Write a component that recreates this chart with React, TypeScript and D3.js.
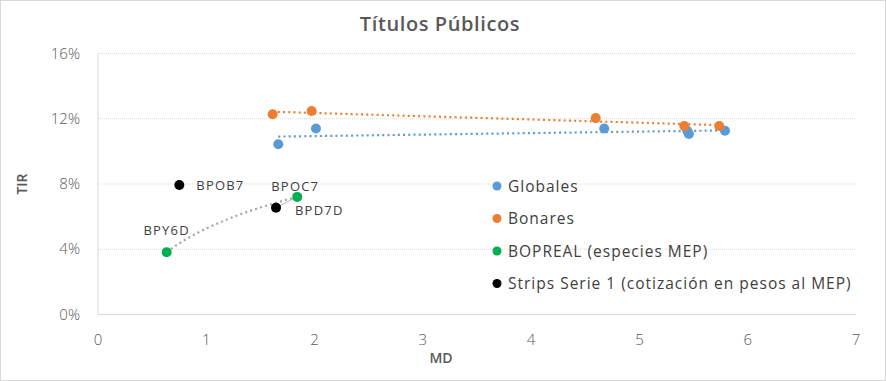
import React from "react";
import * as d3 from "d3";

const globalesMD = [1.665, 2.013, 4.675, 5.441, 5.457, 5.79];
const globalesTIR = [10.44, 11.4, 11.4, 11.26, 11.06, 11.26];
const bonaresMD = [1.613, 1.973, 4.596, 5.414, 5.737];
const bonaresTIR = [12.28, 12.47, 12.04, 11.56, 11.56];
const bopreaMD = [0.634, 1.84];
const bopreaTIR = [3.82, 7.21];
const bopreaLabels = ["BPY6D", "BPOC7"];
const stripsMD = [0.751, 1.644];
const stripsTIR = [7.94, 6.55];
const stripsLabels = ["BPOB7", "BPD7D"];
const xTicks = [0, 1, 2, 3, 4, 5, 6, 7];
const yTicks = [0, 4, 8, 12, 16];
const legendNames = [
  "Globales",
  "Bonares",
  "BOPREAL (especies MEP)",
  "Strips Serie 1 (cotización en pesos al MEP)",
];
const colors = ["#5B9BD5", "#ED7D31", "#00B050", "#000000"];

const W = 886, H = 381;
const x = d3.scaleLinear().domain([0, 7]).range([98, 856]);
const y = d3.scaleLinear().domain([0, 16]).range([314.5, 53.5]);

function linFit(xs: number[], ys: number[]) {
  const n = xs.length;
  const mx = d3.mean(xs)!, my = d3.mean(ys)!;
  let sxy = 0, sxx = 0;
  for (let i = 0; i < n; i++) { sxy += (xs[i] - mx) * (ys[i] - my); sxx += (xs[i] - mx) ** 2; }
  const b = sxy / sxx;
  const a = my - b * mx;
  return (v: number) => a + b * v;
}
function logFit(xs: number[], ys: number[]) {
  const lx = xs.map(Math.log);
  return (v: number) => linFit(lx, ys)(Math.log(v));
}

const line = d3.line<[number, number]>().x(d => x(d[0])).y(d => y(d[1]));

function trend(xs: number[], f: (v: number) => number) {
  const [lo, hi] = d3.extent(xs) as [number, number];
  const pts: [number, number][] = d3.range(0, 41).map(i => {
    const v = lo + (hi - lo) * i / 40;
    return [v, f(v)];
  });
  return line(pts)!;
}

const font = "'Open Sans', 'Noto Sans', sans-serif";

export default function App() {
  const gF = linFit(globalesMD, globalesTIR);
  const bF = linFit(bonaresMD, bonaresTIR);
  const pF = logFit(bopreaMD, bopreaTIR);
  const dash = { strokeDasharray: "2 3.2", strokeWidth: 2.2, fill: "none" } as const;
  return (
    <svg width={W} height={H} style={{ position: "absolute", left: 0, top: 0, background: "#fff" }}>
      <rect x={0.5} y={0.5} width={W - 1} height={H - 1} fill="#fff" stroke="#D9D9D9" />
      <text x={440} y={31} textAnchor="middle" fontFamily={font} fontSize={20} fontWeight={600} fill="#595959" letterSpacing={0.6}>Títulos Públicos</text>
      {yTicks.filter(t => t > 0).map(t => (
        <line key={t} x1={x(0)} x2={x(7)} y1={y(t)} y2={y(t)} stroke="#D9D9D9" strokeWidth={1} strokeDasharray="1 1" />
      ))}
      <line x1={x(0)} x2={x(0)} y1={y(16)} y2={y(0)} stroke="#D9D9D9" />
      <line x1={x(0)} x2={x(7)} y1={y(0)} y2={y(0)} stroke="#D9D9D9" />
      {yTicks.map(t => (
        <text key={t} x={80} y={y(t) + 5} textAnchor="end" fontFamily={font} fontSize={15} fontWeight={300} fill="#595959">{t}%</text>
      ))}
      {xTicks.map(t => (
        <text key={t} x={x(t)} y={345} textAnchor="middle" fontFamily={font} fontSize={15} fontWeight={300} fill="#595959">{t}</text>
      ))}
      <text x={441} y={363} textAnchor="middle" fontFamily={font} fontSize={14} fontWeight={600} fill="#595959">MD</text>
      <text transform={`translate(27,${y(8)}) rotate(-90)`} textAnchor="middle" fontFamily={font} fontSize={14} fontWeight={600} fill="#595959">TIR</text>

      <path d={trend(globalesMD, gF)} stroke={colors[0]} {...dash} />
      <path d={trend(bonaresMD, bF)} stroke={colors[1]} {...dash} />
      <path d={trend(bopreaMD, pF)} stroke="#A5A5A5" {...dash} />
      <line x1={x(stripsMD[1])} y1={y(stripsTIR[1])} x2={x(bopreaMD[1])} y2={y(bopreaTIR[1])} stroke="#A5A5A5" strokeWidth={0.8} />

      {globalesMD.map((v, i) => <circle key={"g" + i} cx={x(v)} cy={y(globalesTIR[i])} r={5} fill={colors[0]} />)}
      {bonaresMD.map((v, i) => <circle key={"b" + i} cx={x(v)} cy={y(bonaresTIR[i])} r={5} fill={colors[1]} />)}
      {bopreaMD.map((v, i) => <circle key={"p" + i} cx={x(v)} cy={y(bopreaTIR[i])} r={5} fill={colors[2]} />)}
      {stripsMD.map((v, i) => <circle key={"s" + i} cx={x(v)} cy={y(stripsTIR[i])} r={5} fill={colors[3]} />)}

      <g fontFamily={font} fontSize={13} fill="#404040" letterSpacing={1.2}>
        <text x={x(bopreaMD[0])} y={y(bopreaTIR[0]) - 17} textAnchor="middle">{bopreaLabels[0]}</text>
        <text x={x(bopreaMD[1]) - 2} y={y(bopreaTIR[1]) - 6} textAnchor="middle">{bopreaLabels[1]}</text>
        <text x={x(stripsMD[0]) + 17} y={y(stripsTIR[0]) + 5}>{stripsLabels[0]}</text>
        <text x={x(stripsMD[1]) + 19} y={y(stripsTIR[1]) + 7}>{stripsLabels[1]}</text>
      </g>

      {legendNames.map((n, i) => (
        <g key={n} transform={`translate(497,${186 + i * 32.5})`}>
          <circle cx={0} cy={0} r={4.5} fill={colors[i]} />
          <text x={11} y={5.5} fontFamily={font} fontSize={15.5} fill="#404040" letterSpacing={1}>{n}</text>
        </g>
      ))}
    </svg>
  );
}
